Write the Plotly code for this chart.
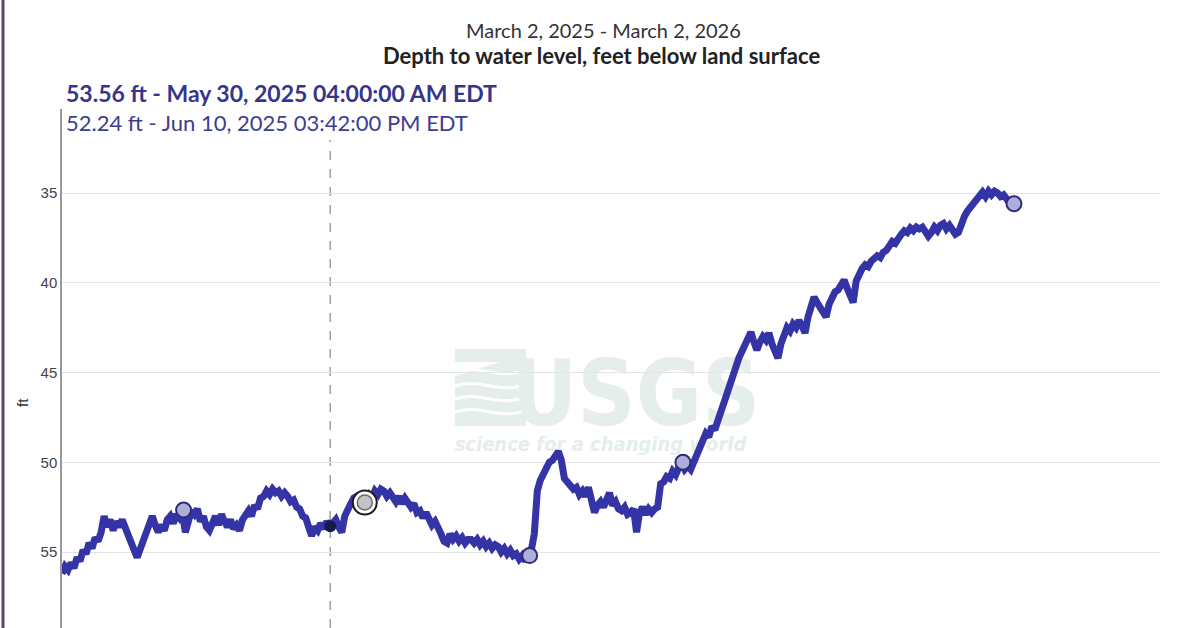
import pandas as pd
import plotly.graph_objects as go

# ---------------- data (daily values) ----------------
start_date = "2025-03-02"
mar_2025 = [56.2, 55.8, 56.0, 55.6, 55.9, 55.3, 55.5, 54.9, 55.1, 54.5,
            54.8, 54.2, 54.4, 53.9, 53.0, 53.6, 53.2, 53.8, 53.3, 53.6,
            53.2, 53.7, 54.0, 54.6, 54.9, 55.3, 54.8, 54.4, 53.9, 53.3]
apr_2025 = [53.0, 53.5, 53.9, 53.5, 53.8, 53.2, 53.0, 53.4, 52.9, 53.1,
            52.8, 53.9, 53.2, 52.7, 52.9, 52.6, 53.3, 53.0, 53.6, 53.8,
            53.4, 53.0, 53.5, 52.9, 53.3, 53.6, 53.2, 53.7, 53.5, 53.8]
may_2025 = [53.2, 52.9, 52.7, 53.0, 52.4, 52.6, 52.0, 51.9, 51.6, 51.8,
            51.5, 51.7, 51.6, 51.9, 51.7, 51.9, 52.2, 52.1, 52.5, 52.6,
            53.0, 53.1, 53.5, 54.1, 53.6, 53.8, 53.4, 53.7, 53.3, 53.56, 53.4]
jun_2025 = [53.2, 53.6, 53.9, 53.0, 52.5, 52.3, 52.0, 51.9, 52.1, 52.24,
            52.0, 51.8, 52.0, 51.6, 51.8, 51.5, 51.6, 51.9, 51.7, 51.9,
            52.2, 51.9, 52.3, 52.0, 52.2, 52.5, 52.3, 52.8, 52.7, 53.1]
jul_2025 = [52.8, 53.2, 53.5, 53.3, 53.8, 54.0, 54.4, 54.5, 54.0, 54.3,
            54.1, 54.4, 54.2, 54.5, 54.3, 54.3, 54.5, 54.3, 54.6, 54.4,
            54.7, 54.5, 54.8, 54.6, 54.7, 55.0, 54.8, 55.1, 54.9, 55.2, 55.1]
aug_2025 = [55.4, 55.2, 55.5, 55.2, 54.9, 54.0, 51.6, 51.0, 50.6, 50.4,
            50.0, 49.9, 49.6, 49.4, 49.9, 50.9, 51.1, 51.3, 51.5, 51.4,
            51.8, 51.6, 51.9, 51.4, 52.0, 52.8, 52.4, 52.2, 52.5, 52.1, 51.7]
sep_2025 = [52.4, 52.2, 52.6, 52.7, 52.5, 52.9, 52.8, 52.6, 53.9, 52.8,
            52.5, 52.9, 52.6, 52.8, 52.6, 52.5, 51.2, 51.1, 50.8, 50.9,
            50.5, 50.7, 50.3, 50.05, 50.4, 50.2, 50.4, 50.0, 49.7, 49.3]
oct_2025 = [48.9, 48.4, 48.6, 48.0, 48.2, 47.6, 47.2, 46.7, 46.2, 45.6,
            45.1, 44.7, 44.2, 43.85, 43.5, 43.1, 42.75, 43.3, 43.75, 43.3,
            43.0, 43.2, 42.8, 43.4, 43.9, 44.2, 43.4, 42.9, 42.5, 42.7, 42.3]
nov_2025 = [42.5, 42.1, 42.4, 42.8, 41.9, 41.2, 40.8, 41.1, 41.4, 41.6,
            41.9, 41.2, 40.8, 40.5, 40.4, 40.1, 39.85, 40.3, 40.7, 41.1,
            39.9, 39.5, 39.2, 39.0, 39.1, 38.8, 38.7, 38.5, 38.6, 38.3]
dec_2025 = [38.2, 38.0, 37.7, 37.8, 37.45, 37.3, 37.1, 37.2, 36.95, 37.1,
            36.9, 37.0, 36.9, 37.1, 37.4, 37.2, 36.9, 37.1, 36.8, 36.7,
            37.0, 36.8, 37.1, 37.3, 37.2, 36.6, 36.3, 36.0, 35.8, 35.55, 35.3]
jan_2026 = [35.1, 34.95, 35.2, 34.9, 35.1, 34.9, 35.0, 35.2, 35.1, 35.3, 35.55]

depth_ft = (mar_2025 + apr_2025 + may_2025 + jun_2025 + jul_2025 + aug_2025
            + sep_2025 + oct_2025 + nov_2025 + dec_2025 + jan_2026)
dates = pd.date_range(start_date, periods=len(depth_ft), freq="D")

field_dates = ["2025-04-11 10:00", "2025-08-04 11:00", "2025-09-24 10:00", "2026-01-12 11:00"]
field_depth = [52.66, 55.2, 50.0, 35.6]

selected_date = "2025-06-10 15:42"
selected_depth = 52.24

hover_date = "2025-05-30 04:00"
hover_depth = 53.56

period_text = "March 2, 2025 - March 2, 2026"
param_text = "Depth to water level, feet below land surface"
hover_text = "53.56 ft - May 30, 2025 04:00:00 AM EDT"
selected_text = "52.24 ft - Jun 10, 2025 03:42:00 PM EDT"
y_title = "ft"
y_ticks = [35, 40, 45, 50, 55]
x_range = ["2025-03-02", "2026-03-02"]
y_range = [59.234, 30.32]

# ---------------- layout helpers (pixel -> paper) ----------------
W, H = 1200, 628
ML, MR, MT, MB = 62, 40, 109, 0
PW, PH = W - ML - MR, H - MT - MB


def px(x):
    return (x - ML) / PW


def py(y):
    return (H - MB - y) / PH


LINE_COLOR = "#3434a6"
TXT_FONT = "Lato, 'Source Sans Pro', 'Open Sans', sans-serif"
AX_FONT = "Arial, 'Liberation Sans', sans-serif"
WM = "#e5eeeb"
WM_FONT = "'DejaVu Sans Condensed', 'Liberation Sans Narrow', sans-serif"

fig = go.Figure()

fig.add_trace(go.Scatter(
    x=dates, y=depth_ft, mode="lines",
    line=dict(color=LINE_COLOR, width=7),
    hoverinfo="skip", showlegend=False,
))
fig.add_trace(go.Scatter(
    x=field_dates, y=field_depth, mode="markers",
    marker=dict(size=15, color="#aeaedc", line=dict(color="#2e2e74", width=2)),
    hoverinfo="skip", showlegend=False,
))
fig.add_trace(go.Scatter(
    x=[selected_date], y=[selected_depth], mode="markers",
    marker=dict(size=24, color="white", line=dict(color="#1c1c1c", width=2)),
    hoverinfo="skip", showlegend=False,
))
fig.add_trace(go.Scatter(
    x=[selected_date], y=[selected_depth], mode="markers",
    marker=dict(size=15, color="#c4c4c8", line=dict(color="#6a6a6a", width=1.5)),
    hoverinfo="skip", showlegend=False,
))
fig.add_trace(go.Scatter(
    x=[hover_date], y=[hover_depth], mode="markers",
    marker=dict(size=12, color="#1a1a4a"),
    hoverinfo="skip", showlegend=False,
))

shapes = []
# left page border
shapes.append(dict(type="line", xref="paper", yref="paper",
                   x0=px(3), x1=px(3), y0=py(H + 5), y1=py(-5),
                   line=dict(color="#5c4a6c", width=3)))
# hover cursor line
shapes.append(dict(type="line", xref="x", yref="paper",
                   x0=hover_date, x1=hover_date, y0=0, y1=py(140),
                   line=dict(color="#a0a0a0", width=1.5, dash="dash"), layer="below"))

# USGS watermark (logo block + wavy stripes + text)
shapes.append(dict(type="rect", xref="paper", yref="paper",
                   x0=px(455), x1=px(526), y0=py(426), y1=py(349),
                   fillcolor=WM, line=dict(width=0), layer="below"))
for yy in [372, 386, 399, 412]:
    path = "M {:.4f},{:.4f} C {:.4f},{:.4f} {:.4f},{:.4f} {:.4f},{:.4f}".format(
        px(455), py(yy), px(478), py(yy - 9), px(500), py(yy + 9), px(526), py(yy - 2))
    shapes.append(dict(type="path", xref="paper", yref="paper", path=path,
                       line=dict(color="white", width=3), layer="below"))
shapes.append(dict(type="path", xref="paper", yref="paper",
                   path="M {:.4f},{:.4f} L {:.4f},{:.4f} L {:.4f},{:.4f} Z".format(
                       px(455), py(362), px(500), py(362), px(455), py(376)),
                   fillcolor="white", line=dict(width=0), layer="below"))
shapes.append(dict(type="rect", xref="paper", yref="paper",
                   x0=px(526), x1=px(746), y0=py(430), y1=py(344),
                   fillcolor="rgba(0,0,0,0)", line=dict(width=0), layer="below",
                   label=dict(text="USGS", textposition="middle center",
                              font=dict(family=WM_FONT, size=90, color=WM, weight="bold"))))
shapes.append(dict(type="rect", xref="paper", yref="paper",
                   x0=px(453), x1=px(748), y0=py(456), y1=py(430),
                   fillcolor="rgba(0,0,0,0)", line=dict(width=0), layer="below",
                   label=dict(text="science for a changing world", textposition="middle center",
                              font=dict(family=WM_FONT, size=20, color=WM,
                                        weight="bold", style="italic"))))

annotations = [
    dict(text=period_text, xref="paper", yref="paper", x=px(603), y=py(30),
         xanchor="center", yanchor="middle", showarrow=False,
         font=dict(family=TXT_FONT, size=20, color="#333333")),
    dict(text="<b>" + param_text + "</b>", xref="paper", yref="paper", x=px(601), y=py(56),
         xanchor="center", yanchor="middle", showarrow=False,
         font=dict(family=TXT_FONT, size=22, color="#222222")),
    dict(text="<b>" + hover_text + "</b>", xref="paper", yref="paper", x=px(64), y=py(93),
         xanchor="left", yanchor="middle", showarrow=False,
         font=dict(family=TXT_FONT, size=23, color="#35358c")),
    dict(text=selected_text, xref="paper", yref="paper", x=px(64), y=py(122),
         xanchor="left", yanchor="middle", showarrow=False,
         font=dict(family=TXT_FONT, size=22, color="#3e3e8e")),
    dict(text=y_title, xref="paper", yref="paper", x=px(22), y=py(402),
         xanchor="center", yanchor="middle", showarrow=False, textangle=-90,
         font=dict(family=AX_FONT, size=15, color="#333333")),
]

fig.update_layout(
    width=W, height=H,
    margin=dict(l=ML, r=MR, t=MT, b=MB),
    paper_bgcolor="white", plot_bgcolor="white",
    shapes=shapes, annotations=annotations,
    showlegend=False,
    xaxis=dict(range=x_range, type="date", showgrid=False, zeroline=False,
               showline=False, showticklabels=False, ticks=""),
    yaxis=dict(range=y_range, tickvals=y_ticks, ticktext=[str(t) for t in y_ticks],
               showgrid=True, gridcolor="#e4e4e4", gridwidth=1, zeroline=False,
               showline=True, linecolor="#999999", linewidth=1.5, ticks="",
               tickfont=dict(family=AX_FONT, size=15, color="#444444")),
)

fig.write_html("out.html")
